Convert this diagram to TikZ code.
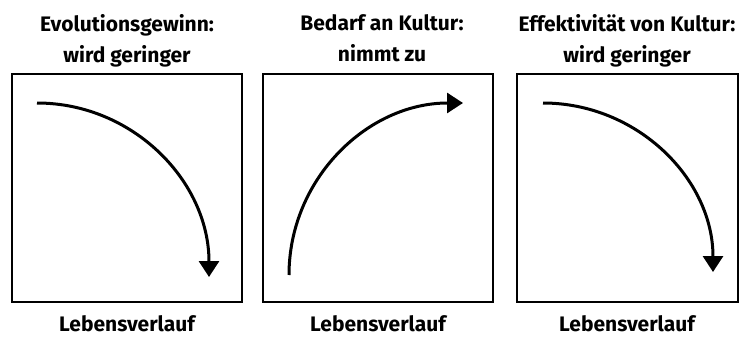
\documentclass[tikz,border=0pt]{standalone}
\usepackage{fontspec}
\setmainfont{Fira Sans}
\usetikzlibrary{arrows.meta}
\begin{document}
\begin{tikzpicture}[x=1pt, y=-1pt,
    box/.style={draw, line width=1.3pt, minimum height=228pt, inner sep=0pt},
    title/.style={align=center, font=\bfseries\fontsize{21}{31}\selectfont, inner sep=0pt, anchor=north},
    label/.style={font=\bfseries\fontsize{21}{31}\selectfont, inner sep=0pt, anchor=base},
    pfeil/.style={line width=3pt, -{Triangle[length=16pt, width=20pt]}}
]
\useasboundingbox (0,0) rectangle (741,337);
% Kaesten
\node[box, minimum width=230pt] (box1) at (127,188) {};
\node[box, minimum width=230pt] (box2) at (378,188) {};
\node[box, minimum width=221pt] (box3) at (627.5,188) {};
% Ueberschriften
\node[title] (titel1) at (127,14) {Evolutionsgewinn:\\wird geringer};
\node[title] (titel2) at (382,14) {Bedarf an Kultur:\\nimmt zu};
\node[title] (titel3) at (627,14) {Effektivität von Kultur:\\wird geringer};
% Achsen
\node[label] (achse1) at (127,331) {Lebensverlauf};
\node[label] (achse2) at (378,331) {Lebensverlauf};
\node[label] (achse3) at (627,331) {Lebensverlauf};
% Kurven
\coordinate (a1) at (37,103);
\coordinate (b1) at (209,277);
\coordinate (a2) at (289,275);
\coordinate (b2) at (463,103);
\coordinate (a3) at (543,103);
\coordinate (b3) at (713,272);
\draw[pfeil] (a1) to[out=0, in=90] (b1);
\draw[pfeil] (a2) to[out=90, in=180] (b2);
\draw[pfeil] (a3) to[out=0, in=90] (b3);
\end{tikzpicture}
\end{document}
